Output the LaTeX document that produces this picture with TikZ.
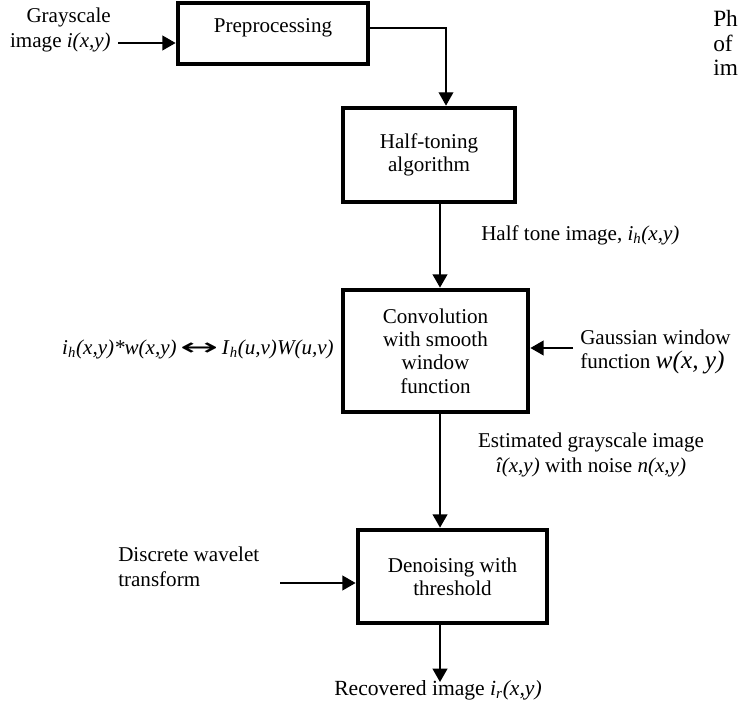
\documentclass[tikz,border=0pt]{standalone}
\usepackage{fontspec}
\usepackage{graphicx}
\setmainfont{Liberation Serif}
\newfontfamily\djv{DejaVu Sans}
\usetikzlibrary{arrows.meta}
\newcommand\itx[1]{\textit{#1}}
\begin{document}
\begin{tikzpicture}[x=0.75pt,y=-0.75pt,
  blk/.style={draw,line width=3.5pt,inner sep=0pt,align=center,font=\fontsize{15.8}{17.5}\selectfont},
  conn/.style={line width=1.5pt,-{Triangle[length=10pt,width=11pt]}},
  thinconn/.style={line width=1pt,-{Triangle[length=10pt,width=11pt]}},
  lbl/.style={font=\fontsize{15.8}{18.5}\selectfont,inner sep=0pt}]
\useasboundingbox (0,0) rectangle (744,702);
% boxes
\node[blk,minimum width=142.5pt,minimum height=45.75pt] (pre) at (273,33.5) {};
\node[lbl] (pretext) at (273,28) {Preprocessing};
\node[blk,minimum width=129pt,minimum height=70.5pt] (half) at (429,155) {Half-toning\\algorithm};
\node[blk,minimum width=138.75pt,minimum height=91.5pt] (conv) at (435.5,351) {Convolution\\with smooth\\window\\function};
\node[blk,minimum width=141.75pt,minimum height=69.75pt] (den) at (452.5,576.5) {Denoising with\\threshold};
% labels
\node[lbl,anchor=east,align=right] (gray) at (111,30) {Grayscale\\image \itx{i(x,y)}};
\node[lbl,anchor=west] (htl) at (481,235) {Half tone image, \itx{i}\textsubscript{\itx{h}}\itx{(x,y)}};
\node[lbl,anchor=east] (eq) at (334,349) {\itx{i}\textsubscript{\itx{h}}\itx{(x,y)*w(x,y)}\,\raisebox{-1pt}{\scalebox{1.9}[1.0]{\djv\fontsize{18}{18}\selectfont ↔}}\,\itx{I}\textsubscript{\itx{h}}\itx{(u,v)W(u,v)}};
\node[lbl,anchor=west,align=left] (gauss) at (580,352) {Gaussian window\\function {\fontsize{19}{19}\selectfont\itx{w(x, y)}}};
\node[lbl,align=center] (est) at (591,455) {Estimated grayscale image\\\itx{î(x,y)} with noise \itx{n(x,y)}};
\node[lbl,anchor=west,align=left] (dwt) at (118,567) {Discrete wavelet\\transform};
\node[lbl,font=\fontsize{16.2}{18}\selectfont] (rec) at (438,690) {Recovered image \itx{i}\textsubscript{\itx{r}}\itx{(x,y)}};
\node[lbl,anchor=west,align=left,font=\fontsize{17.5}{18.6}\selectfont] (ph) at (713,43) {Ph\\of\\im};
% connectors
\coordinate (gin) at (118,43);
\draw[conn] (gin) -- (gin -| pre.west);
\coordinate (pout) at (369,28);
\draw[thinconn] (pout) -| ([xshift=12.75pt]half.north);
\draw[conn] ([xshift=8.25pt]half.south) -- ([xshift=8.25pt]half.south |- conv.north);
\coordinate (gs) at (573,348);
\draw[conn] (gs) -- (gs -| conv.east);
\draw[conn] ([xshift=3.4pt]conv.south) -- ([xshift=3.4pt]conv.south |- den.north);
\coordinate (ds) at (280,583);
\draw[conn] (ds) -- (ds -| den.west);
\coordinate (rtip) at (440,682);
\draw[conn] (rtip |- den.south) -- (rtip);
\end{tikzpicture}
\end{document}
